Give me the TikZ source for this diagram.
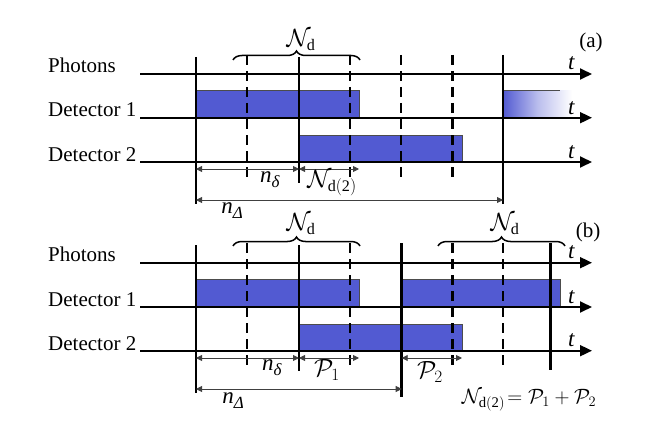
\documentclass[tikz,border=0pt]{standalone}
\usepackage{fontspec}
\setmainfont{Liberation Serif}
\usetikzlibrary{arrows.meta,decorations.pathreplacing}
\definecolor{barblue}{RGB}{82,90,210}
\newcommand{\nsub}[1]{\textit{n}{\fontsize{17}{17}\selectfont\raisebox{-5pt}{\textit{#1}}}}
\begin{document}
\begin{tikzpicture}[x=1pt,y=-1pt,
  axis/.style={line width=1.8pt,-{Triangle[length=12pt,width=11pt]}},
  solidv/.style={line width=2.8pt},
  dashv/.style={line width=2.8pt,dash pattern=on 10pt off 6pt},
  barbox/.style={fill=barblue,draw=black!70,line width=0.6pt},
  dimline/.style={line width=0.9pt,draw=black!75,{Triangle[length=6pt,width=6pt]}-{Triangle[length=6pt,width=6pt]}},
  lbl/.style={font=\fontsize{21}{25}\selectfont,inner sep=0pt},
  mlbl/.style={font=\fontsize{23}{27}\selectfont,inner sep=0pt},
  brc/.style={decorate,decoration={brace,amplitude=9pt},line width=1.5pt}]
\useasboundingbox (0,0) rectangle (654,436);
% ===================== (a) =====================
\draw[barbox] (196,90.7) rectangle (359,117.7);
\draw[barbox] (299,135) rectangle (462,162);
\shade[left color=barblue,right color=white,middle color=barblue!40] (503,90.7) rectangle (572,117.7);
\draw[line width=0.8pt,black!70] (503,90.7) -- (560,90.7);
% axes
\coordinate (aP0) at (140,74);    \coordinate (aP1) at (592,74);
\coordinate (aD10) at (140,117.7);\coordinate (aD11) at (592,117.7);
\coordinate (aD20) at (140,162);  \coordinate (aD21) at (592,162);
\draw[axis] (aP0) -- (aP1);
\draw[axis] (aD10) -- (aD11);
\draw[axis] (aD20) -- (aD21);
% verticals
\draw[solidv] (196,57) -- (196,204);
\draw[dashv] (247,55) -- (247,182);
\draw[solidv] (299,57) -- (299,183);
\draw[dashv] (350,55) -- (350,182);
\draw[dashv] (401,55) -- (401,182);
\draw[dashv] (452.5,55) -- (452.5,182);
\draw[solidv] (503,55) -- (503,204);
% brace
\draw[brc] (233,60) -- (360,60);
\node[mlbl] (aNd) at (301,40) {$\mathcal{N}_{\mathrm{d}}$};
\node[lbl] (alab) at (591,42) {(a)};
% labels
\node[lbl,anchor=base west] (aPh) at (48,73) {Photons};
\node[lbl,anchor=base west] (aDa) at (48,117) {Detector 1};
\node[lbl,anchor=base west] (aDb) at (48,161.5) {Detector 2};
\node[mlbl,anchor=base west] (at1) at (568,70) {\textit{t}};
\node[mlbl,anchor=base west] (at2) at (568,114) {\textit{t}};
\node[mlbl,anchor=base west] (at3) at (568,158) {\textit{t}};
% dimensions
\coordinate (ad0) at (196,169); \coordinate (ad1) at (299,169); \coordinate (ad2) at (359,169);
\coordinate (ae0) at (196,200); \coordinate (ae1) at (503,200);
\draw[dimline] (ad0) -- (ad1);
\draw[dimline] (ad1) -- (ad2);
\draw[dimline] (ae0) -- (ae1);
\node[mlbl] (and) at (270,180) {\nsub{δ}};
\node[mlbl] (aNd2) at (332,183) {$\mathcal{N}_{\mathrm{d(2)}}$};
\node[mlbl] (anD) at (232,211) {\nsub{Δ}};
% ===================== (b) =====================
\draw[barbox] (196,279) rectangle (359,307);
\draw[barbox] (299,324) rectangle (462,350.7);
\draw[barbox] (401.7,279) rectangle (560,307);
\coordinate (bP0) at (140,262.7);  \coordinate (bP1) at (592,262.7);
\coordinate (bD10) at (140,307);   \coordinate (bD11) at (592,307);
\coordinate (bD20) at (140,350.7); \coordinate (bD21) at (592,350.7);
\draw[axis] (bP0) -- (bP1);
\draw[axis] (bD10) -- (bD11);
\draw[axis] (bD20) -- (bD21);
\draw[solidv] (196,245) -- (196,393);
\draw[dashv] (247,243) -- (247,369);
\draw[solidv] (299,245) -- (299,371);
\draw[dashv] (350,243) -- (350,369);
\draw[solidv] (401.7,243) -- (401.7,397);
\draw[dashv] (452.7,243) -- (452.7,369);
\draw[dashv] (503,243) -- (503,369);
\draw[solidv] (550.7,243) -- (550.7,370);
\draw[brc] (233,246) -- (360,246);
\draw[brc] (438,246) -- (565,246);
\node[mlbl] (bNd) at (301,224) {$\mathcal{N}_{\mathrm{d}}$};
\node[mlbl] (bNdb) at (505,224) {$\mathcal{N}_{\mathrm{d}}$};
\node[lbl] (blab) at (588,232) {(b)};
\node[lbl,anchor=base west] (bPh) at (48,261.7) {Photons};
\node[lbl,anchor=base west] (bDa) at (48,306.5) {Detector 1};
\node[lbl,anchor=base west] (bDb) at (48,350) {Detector 2};
\node[mlbl,anchor=base west] (bt1) at (568,258.7) {\textit{t}};
\node[mlbl,anchor=base west] (bt2) at (568,303) {\textit{t}};
\node[mlbl,anchor=base west] (bt3) at (568,346.7) {\textit{t}};
\coordinate (bd0) at (196,358); \coordinate (bd1) at (299,358); \coordinate (bd2) at (359,358);
\coordinate (bd3) at (401.7,358); \coordinate (bd4) at (462,358);
\coordinate (be0) at (196,389); \coordinate (be1) at (401.7,389);
\draw[dimline] (bd0) -- (bd1);
\draw[dimline] (bd1) -- (bd2);
\draw[dimline] (bd3) -- (bd4);
\draw[dimline] (be0) -- (be1);
\node[mlbl] (bnd) at (272,368) {\nsub{δ}};
\node[mlbl] (bP1) at (327,370) {$\mathcal{P}_1$};
\node[mlbl] (bP2) at (430,372) {$\mathcal{P}_2$};
\node[mlbl] (bnD) at (233,401) {\nsub{Δ}};
\node[lbl] (bform) at (529,400) {$\mathcal{N}_{\mathrm{d(2)}}\!=\mathcal{P}_1+\mathcal{P}_2$};
\end{tikzpicture}
\end{document}
